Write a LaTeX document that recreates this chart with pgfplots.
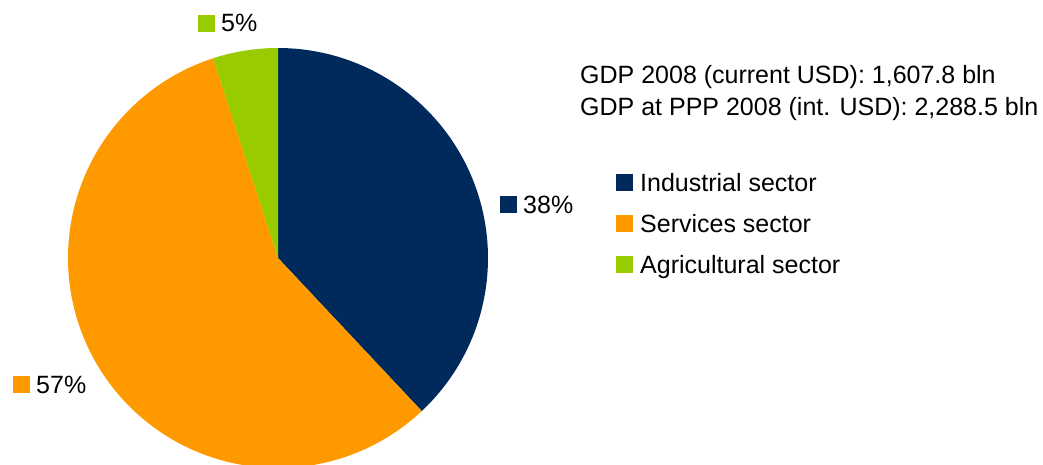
\documentclass[border=0pt]{standalone}
\usepackage{pgfplots}
\pgfplotsset{compat=1.18}
\usepackage{pgfplotstable}
\usepackage{fontspec}
\setmainfont{Liberation Sans}

\definecolor{indcol}{HTML}{002A5C}
\definecolor{sercol}{HTML}{FF9900}
\definecolor{agrcol}{HTML}{99CC00}

% GDP composition by sector, 2008 (percent)
\pgfplotstableread{
sector share
Industrial 38
Services 57
Agricultural 5
}\sectors

\pgfplotstablegetelem{0}{share}\of\sectors \let\shInd\pgfplotsretval
\pgfplotstablegetelem{1}{share}\of\sectors \let\shSer\pgfplotsretval
\pgfplotstablegetelem{2}{share}\of\sectors \let\shAgr\pgfplotsretval

% slices run clockwise from 12 o'clock
\pgfmathsetmacro\aA{90}
\pgfmathsetmacro\aB{\aA-3.6*\shInd}
\pgfmathsetmacro\aC{\aB-3.6*\shSer}
\pgfmathsetmacro\aD{\aC-3.6*\shAgr}

\newcommand\cx{278}
\newcommand\cy{206}
\newcommand\rr{210}

\begin{document}
\begin{tikzpicture}
\fontsize{25}{30}\selectfont
\begin{axis}[
  name=pie,
  x=1pt, y=1pt,
  xmin=0, xmax=1043, ymin=0, ymax=464,
  hide axis,
  scale only axis,
]
\addplot[fill=indcol, draw=none, domain=\aB:\aA, samples=120, variable=\t]
  ({\cx+\rr*cos(\t)},{\cy+\rr*sin(\t)}) -- (axis cs:\cx,\cy) -- cycle;
\addplot[fill=sercol, draw=none, domain=\aC:\aB, samples=180, variable=\t]
  ({\cx+\rr*cos(\t)},{\cy+\rr*sin(\t)}) -- (axis cs:\cx,\cy) -- cycle;
\addplot[fill=agrcol, draw=none, domain=\aD:\aC, samples=30, variable=\t]
  ({\cx+\rr*cos(\t)},{\cy+\rr*sin(\t)}) -- (axis cs:\cx,\cy) -- cycle;

% slice labels
\fill[agrcol] (axis cs:198,432) rectangle (axis cs:215,449);
\node[anchor=base west, inner sep=0pt] at (axis cs:221,432) {\shAgr\%};
\fill[indcol] (axis cs:500,251) rectangle (axis cs:517,268);
\node[anchor=base west, inner sep=0pt] at (axis cs:523,251) {\shInd\%};
\fill[sercol] (axis cs:13,71) rectangle (axis cs:30,88);
\node[anchor=base west, inner sep=0pt] at (axis cs:36,71) {\shSer\%};

% headline figures
\node[anchor=base west, inner sep=0pt] at (axis cs:580,380) {GDP 2008 (current USD): 1,607.8 bln};
\node[anchor=base west, inner sep=0pt] at (axis cs:580,348) {GDP at PPP 2008 (int. USD): 2,288.5 bln};

% legend
\fill[indcol] (axis cs:616,273) rectangle (axis cs:633,290);
\node[anchor=base west, inner sep=0pt] at (axis cs:640,273) {Industrial sector};
\fill[sercol] (axis cs:616,232) rectangle (axis cs:633,249);
\node[anchor=base west, inner sep=0pt] at (axis cs:640,232) {Services sector};
\fill[agrcol] (axis cs:616,191) rectangle (axis cs:633,208);
\node[anchor=base west, inner sep=0pt] at (axis cs:640,191) {Agricultural sector};
\end{axis}
\pgfresetboundingbox
\path (pie.south west) rectangle (pie.north east);
\end{tikzpicture}
\end{document}
